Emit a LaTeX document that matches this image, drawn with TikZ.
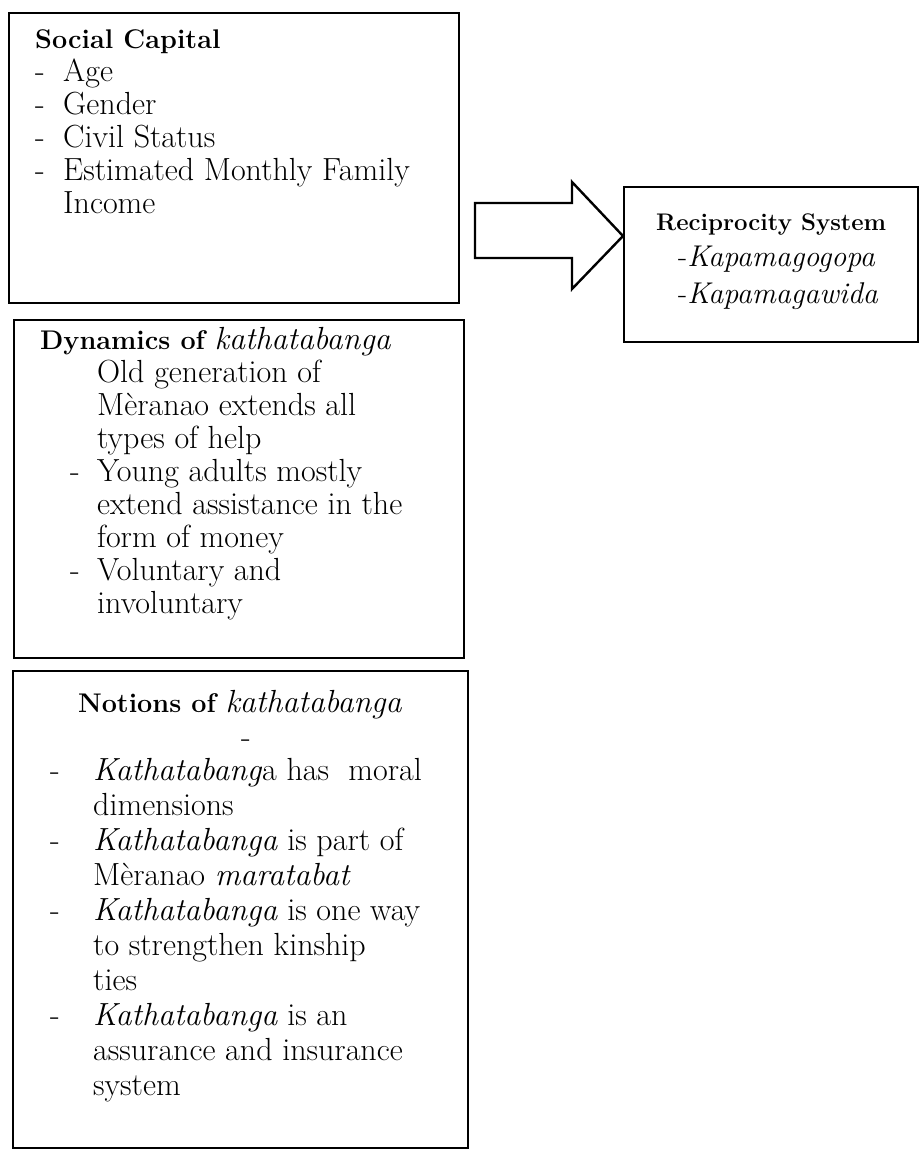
\documentclass[tikz,border=0pt]{standalone}
\usepackage{tikz}
\usetikzlibrary{
    positioning,  % relative placement
    calc,  % coordinate arithmetic
}
\tikzset{
    frame/.style={draw, line width=2.4pt, anchor=north west, inner sep=0pt},
    txt/.style={anchor=north west, inner sep=0pt, font=\fontsize{32}{33}\selectfont},
}
\newcommand{\hdfont}{\fontsize{27}{33}\selectfont\bfseries}
\newcommand{\kt}{\textit{kathatabanga}}
\newcommand{\Kt}{\textit{Kathatabanga}}

\begin{document}
\begin{tikzpicture}[x=1pt, y=-1pt]
    \useasboundingbox (0,0) rectangle (919,1150);

    \node[frame, minimum width=450pt, minimum height=290pt] (social) at (8,12) {};
    \node[frame, minimum width=450pt, minimum height=338pt] (dyn) at (13,319) {};
    \node[frame, minimum width=455pt, minimum height=477pt] (notions) at (12,670) {};
    \node[frame, minimum width=294pt, minimum height=155pt] (recip) at (623,186) {};

    \node[txt] (socialtxt) at (35,25) {\begin{tabular}{@{}p{28pt}@{}l@{}}
        \multicolumn{2}{@{}l@{}}{\hdfont Social Capital}\\
        - & Age\\
        - & Gender\\
        - & Civil Status\\
        - & Estimated Monthly Family\\
          & Income
    \end{tabular}};

    \node[txt] (dyntxt) at (40,326.5) {\begin{tabular}{@{\hspace{30pt}}p{27pt}@{}l@{}}
        \multicolumn{2}{@{}l@{}}{{\hdfont Dynamics of} \kt}\\
          & Old generation of\\
          & Mèranao extends all\\
          & types of help\\
        - & Young adults mostly\\
          & extend assistance in the\\
          & form of money\\
        - & Voluntary and\\
          & involuntary
    \end{tabular}};

    \node[anchor=base, inner sep=0pt, font=\fontsize{32}{33}\selectfont] (notionshd) at (240,712)
        {{\hdfont Notions of} \kt};
    \node[anchor=base, inner sep=0pt, font=\fontsize{32}{33}\selectfont] (lonedash) at (246,747) {-};
    \node[txt, font=\fontsize{32}{35}\selectfont] (notionstxt) at (50,755.5) {\begin{tabular}{@{}p{43pt}@{}l@{}}
        - & \textit{Kathatabang}a has\ \ moral\\
          & dimensions\\
        - & \Kt{} is part of\\
          & Mèranao \textit{maratabat}\\
        - & \Kt{} is one way\\
          & to strengthen kinship\\
          & ties\\
        - & \Kt{} is an\\
          & assurance and insurance\\
          & system
    \end{tabular}};

    \node[txt, font=\fontsize{30}{36.5}\selectfont] (reciptxt) at (656,204.5) {\begin{tabular}{@{\hspace{22pt}}l@{}}
        \multicolumn{1}{@{}l@{}}{\fontsize{24}{36.5}\selectfont\bfseries Reciprocity System}\\
        -\textit{Kapamagogopa}\\
        -\textit{Kapamagawida}
    \end{tabular}};

    \coordinate (tip) at (623,236);
    \draw[line width=2.4pt, line join=miter] (475,203) -- (572,203) -- (572,182) -- (tip)
        -- (572,289) -- (572,258) -- (475,258) -- cycle;
\end{tikzpicture}
\end{document}
